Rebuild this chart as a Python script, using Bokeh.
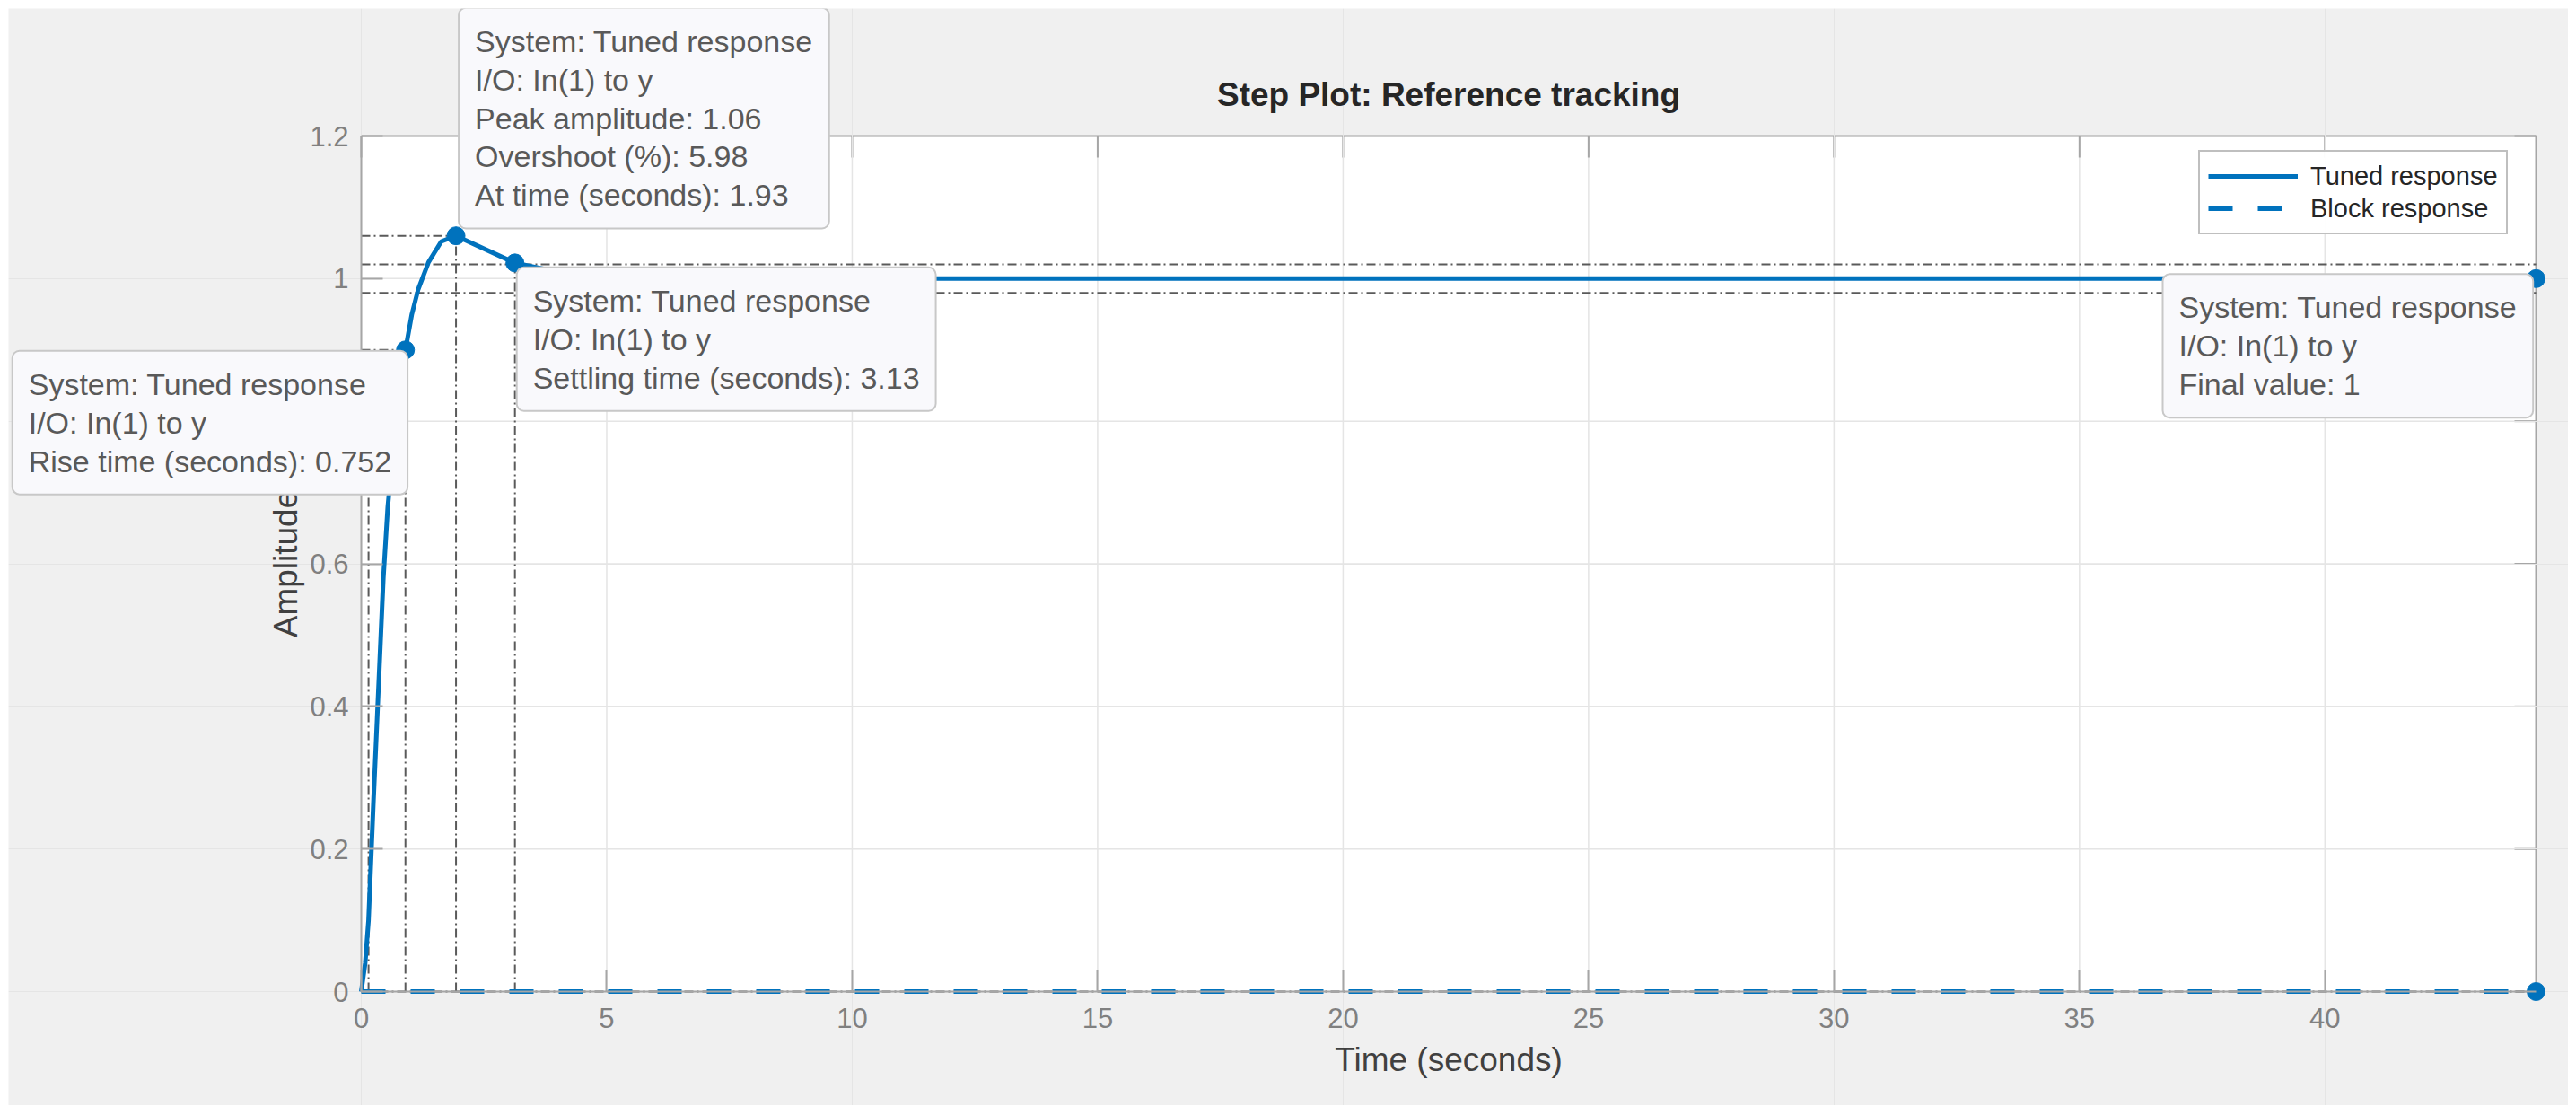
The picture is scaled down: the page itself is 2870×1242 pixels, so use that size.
import math
from bokeh.plotting import figure
from bokeh.models import Range1d, FixedTicker, LinearAxis, Label, Legend, LegendItem
from bokeh.embed import file_html
from bokeh.resources import INLINE

# ---------------- data ----------------
title_text = "Step Plot: Reference tracking"
x_label = "Time (seconds)"
y_label = "Amplitude"
x_ticks = [0, 5, 10, 15, 20, 25, 30, 35, 40]
y_ticks = [0, 0.2, 0.4, 0.6, 0.8, 1.0, 1.2]
y_tick_labels = ["0", "0.2", "0.4", "0.6", "0.8", "1", "1.2"]
x_max = 44.3
y_max = 1.2

tuned_t = [0, 0.08, 0.148, 0.25, 0.36, 0.45, 0.54, 0.65, 0.77, 0.9, 1.03, 1.16, 1.37, 1.63, 1.93, 3.13, 4.4, 6.0, 44.3]
tuned_y = [0, 0.04, 0.10, 0.27, 0.44, 0.58, 0.68, 0.76, 0.84, 0.90, 0.95, 0.985, 1.023, 1.052, 1.06, 1.022, 1.004, 1.0, 1.0]

block_t = [0, 44.3]
block_y = [0, 0]

rise_time = 0.752
rise_t90 = 0.9
rise_y90 = 0.9
rise_t10 = rise_t90 - rise_time
peak_t = 1.93
peak_y = 1.06
overshoot = 5.98
settle_t = 3.13
settle_y = 1.022
settle_lo = 0.98
settle_hi = 1.02
final_t = 44.3
final_value = 1
block_final = 0

series_names = ["Tuned response", "Block response"]

# ---------------- layout (pixels) ----------------
W, H = 2852, 1222
PA_L, PA_R, PA_T, PA_B = 393, 2816, 142, 1095   # plot area inside the figure
sxu = (PA_R - PA_L) / x_max
syu = (PA_B - PA_T) / y_max
x_start = -PA_L / sxu
x_end = x_max + (W - PA_R) / sxu
y_start = -(H - PA_B) / syu
y_end = y_max + PA_T / syu

FONT = "Liberation Sans"
BLUE = "#0072BD"
AX = "#a6a6a6"
CHAR = "#5a5a5a"
GRID = "#e4e4e4"
TICK_LEN = 24

p = figure(width=W, height=H, output_backend="svg", toolbar_location=None,
           x_range=Range1d(x_start, x_end), y_range=Range1d(y_start, y_end),
           x_axis_location=None, y_axis_location=None,
           min_border=0, outline_line_color=None,
           background_fill_color="#f0f0f0", border_fill_color="#f0f0f0")
p.margin = (9, 0, 0, 9)

# white plot area
p.quad(left=[0], right=[x_max], bottom=[0], top=[y_max], fill_color="white",
       line_color=None, level="image")

# grid lines
p.segment(x_ticks, [0] * len(x_ticks), x_ticks, [y_max] * len(x_ticks),
          line_color=GRID, line_width=1.5, level="underlay")
p.segment([0] * len(y_ticks), y_ticks, [x_max] * len(y_ticks), y_ticks,
          line_color=GRID, line_width=1.5, level="underlay")

# box (top and right edges) + inward ticks on top/right
p.segment([0, x_max], [y_max, 0], [x_max, x_max], [y_max, y_max],
          line_color=AX, line_width=2, level="underlay")
p.ray(x=x_ticks, y=[y_max] * len(x_ticks), length=TICK_LEN, length_units="screen",
      angle=-math.pi / 2, line_color=AX, line_width=2, level="underlay")
p.ray(x=[x_max] * len(y_ticks), y=y_ticks, length=TICK_LEN, length_units="screen",
      angle=math.pi, line_color=AX, line_width=2, level="underlay")

# axes at the plot-area edges
xax = LinearAxis(fixed_location=0, bounds=(0, x_max), ticker=FixedTicker(ticks=x_ticks),
                 axis_label=x_label)
yax = LinearAxis(fixed_location=0, bounds=(0, y_max), ticker=FixedTicker(ticks=y_ticks),
                 axis_label=y_label,
                 major_label_overrides={v: s for v, s in zip(y_ticks, y_tick_labels)})
for ax in (xax, yax):
    ax.major_tick_in = TICK_LEN
    ax.major_tick_out = 0
    ax.minor_tick_line_color = None
    ax.axis_line_color = AX
    ax.axis_line_width = 2
    ax.major_tick_line_color = AX
    ax.major_tick_line_width = 2
    ax.major_label_text_font = FONT
    ax.major_label_text_font_size = "31px"
    ax.major_label_text_color = "#808080"
    ax.axis_label_text_font = FONT
    ax.axis_label_text_font_size = "37px"
    ax.axis_label_text_font_style = "normal"
    ax.axis_label_text_color = "#404040"
xax.major_label_standoff = 18
xax.axis_label_standoff = 12
yax.major_label_standoff = 14
yax.axis_label_standoff = 3
p.add_layout(xax, "below")
p.add_layout(yax, "left")

# title
p.add_layout(Label(x=x_max / 2, y=y_max, y_offset=46, text=title_text,
                   text_font=FONT, text_font_size="37px", text_font_style="bold",
                   text_color="#262626", text_align="center", text_baseline="alphabetic"))

# characteristic guide lines
seg_x0 = [0, rise_t10, rise_t90, 0, peak_t, 0, 0, settle_t, 0]
seg_y0 = [rise_y90, 0, 0, peak_y, 0, settle_hi, settle_lo, 0, block_final]
seg_x1 = [rise_t90, rise_t10, rise_t90, peak_t, peak_t, x_max, x_max, settle_t, x_max]
seg_y1 = [rise_y90, rise_y90, rise_y90, peak_y, peak_y, settle_hi, settle_lo, settle_y, block_final]
p.segment(seg_x0, seg_y0, seg_x1, seg_y1, line_color=CHAR, line_width=2, line_dash="10 4 2 4")

tuned_r = p.line(tuned_t, tuned_y, line_color=BLUE, line_width=5)
block_r = p.line(block_t, block_y, line_color=BLUE, line_width=5, line_dash="27 28")

p.scatter([rise_t90, peak_t, settle_t, final_t, final_t],
          [rise_y90, peak_y, settle_y, final_value, block_final],
          size=20, fill_color=BLUE, line_color=BLUE)

# legend (bottom-left corner given in frame pixels)
LEG_W, LEG_H = 342, 88
leg_left = PA_R - 34 - LEG_W
leg_top = PA_T + 22
legend = Legend(items=[LegendItem(label=series_names[0], renderers=[tuned_r]),
                       LegendItem(label=series_names[1], renderers=[block_r])],
                location=(leg_left, H - leg_top - LEG_H), padding=9, spacing=0,
                glyph_width=100, glyph_height=36, label_height=36, label_standoff=14,
                label_text_font=FONT, label_text_font_size="29px", label_text_color="#262626",
                border_line_color="#7f7f7f", border_line_width=2, background_fill_color="white")
p.add_layout(legend)


def add_box(xv, yv, lines, dx, dy):
    lab = Label(x=xv, y=yv, x_offset=dx, y_offset=dy, text="\n".join(lines),
                text_font=FONT, text_font_size="34px", text_color="#595959",
                text_align="left", text_baseline="top", text_line_height=1.13,
                background_fill_color="#f9f9fc", border_line_color="#c8c8c8",
                border_line_width=2, padding=18, border_radius=8)
    p.add_layout(lab)


sys_line = "System: " + series_names[0]
io_line = "I/O: In(1) to y"
add_box(peak_t, peak_y, [sys_line, io_line, f"Peak amplitude: {peak_y:.2f}",
                         f"Overshoot (%): {overshoot:.2f}", f"At time (seconds): {peak_t:.2f}"], 3, 254)
add_box(settle_t, settle_y, [sys_line, io_line, f"Settling time (seconds): {settle_t:.2f}"], 2, -5)
add_box(rise_t90, rise_y90, [sys_line, io_line, f"Rise time (seconds): {rise_time:.3f}"], -438, -1)
add_box(final_t, final_value, [sys_line, io_line, f"Final value: {final_value}"], -416, 5)

open("out.html", "w").write(file_html(p, INLINE))
